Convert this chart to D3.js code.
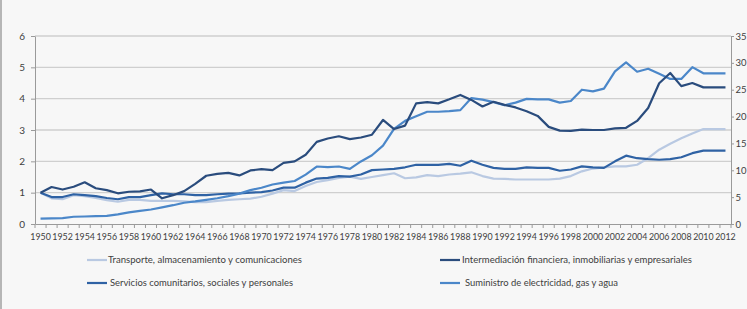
<!DOCTYPE html>
<html>
<head>
<meta charset="utf-8">
<script src="https://cdn.jsdelivr.net/npm/d3@7"></script>
<style>
  html, body { margin: 0; padding: 0; background: #f7f7f7; }
  svg { display: block; font-family: Lato, "Open Sans", sans-serif; }
</style>
</head>
<body>
<svg id="chart" width="747" height="309"></svg>
<script>
// ---- Data ----
const years = d3.range(1950, 2013);

const leftTicks = [0, 1, 2, 3, 4, 5, 6];
const rightTicks = [0, 5, 10, 15, 20, 25, 30, 35];

// Left axis series (index, 1950 = 1)
const transporte = [
  1.00, 0.82, 0.79, 0.92, 0.89, 0.83, 0.76, 0.71, 0.77, 0.77,
  0.74, 0.74, 0.74, 0.72, 0.70, 0.70, 0.74, 0.77, 0.79, 0.81,
  0.87, 0.97, 1.08, 1.05, 1.21, 1.34, 1.40, 1.47, 1.51, 1.44,
  1.50, 1.56, 1.62, 1.46, 1.49, 1.56, 1.53, 1.58, 1.61, 1.65,
  1.53, 1.45, 1.44, 1.42, 1.42, 1.42, 1.42, 1.45, 1.53, 1.68,
  1.77, 1.81, 1.84, 1.84, 1.89, 2.10, 2.37, 2.56, 2.74, 2.89,
  3.03, 3.03, 3.03
];
const intermediacion = [
  1.00, 1.18, 1.10, 1.19, 1.33, 1.14, 1.08, 0.98, 1.03, 1.04,
  1.10, 0.82, 0.92, 1.05, 1.28, 1.54, 1.60, 1.63, 1.55, 1.71,
  1.75, 1.72, 1.95, 2.00, 2.21, 2.62, 2.73, 2.80, 2.71, 2.76,
  2.85, 3.32, 3.03, 3.14, 3.85, 3.89, 3.85, 3.98, 4.12, 3.96,
  3.75, 3.90, 3.80, 3.72, 3.60, 3.45, 3.10, 2.98, 2.97, 3.01,
  3.00, 3.00, 3.05, 3.07, 3.29, 3.70, 4.49, 4.82, 4.40, 4.50,
  4.36, 4.36, 4.36
];
const servicios = [
  1.00, 0.86, 0.86, 0.95, 0.92, 0.89, 0.83, 0.79, 0.86, 0.86,
  0.92, 0.98, 0.95, 0.95, 0.92, 0.92, 0.95, 0.97, 0.98, 1.00,
  1.02, 1.07, 1.16, 1.16, 1.32, 1.45, 1.47, 1.53, 1.51, 1.58,
  1.72, 1.74, 1.76, 1.81, 1.89, 1.89, 1.89, 1.92, 1.86, 2.02,
  1.89, 1.79, 1.76, 1.76, 1.81, 1.79, 1.79, 1.70, 1.74, 1.84,
  1.81, 1.79, 2.00, 2.18, 2.10, 2.07, 2.05, 2.07, 2.13, 2.26,
  2.34, 2.34, 2.34
];
// Right axis series
const suministro = [
  1.00, 1.05, 1.10, 1.35, 1.40, 1.45, 1.50, 1.80, 2.15, 2.45,
  2.70, 3.10, 3.50, 3.95, 4.20, 4.50, 4.80, 5.20, 5.65, 6.30,
  6.75, 7.35, 7.70, 8.00, 9.20, 10.7, 10.6, 10.7, 10.25, 11.65,
  12.8, 14.6, 17.7, 19.2, 20.05, 20.9, 20.9, 21.0, 21.2, 23.45,
  23.15, 22.7, 22.1, 22.6, 23.3, 23.2, 23.2, 22.6, 22.9, 25.0,
  24.7, 25.2, 28.4, 30.1, 28.35, 28.9, 27.95, 27.0, 27.0, 29.2,
  28.05, 28.05, 28.05
];

const seriesNames = [
  "Transporte, almacenamiento y comunicaciones",
  "Intermediación financiera, inmobiliarias y empresariales",
  "Servicios comunitarios, sociales y personales",
  "Suministro de electricidad, gas y agua"
];
const seriesColors = ["#b9c9e2", "#2a4c7d", "#2f62a4", "#4b87c9"];
const seriesValues = [transporte, intermediacion, servicios, suministro];
const seriesAxis = ["left", "left", "left", "right"];

// ---- Layout ----
const svg = d3.select("#chart");
const plot = { left: 35, right: 731, top: 36, bottom: 224 };

svg.append("rect").attr("width", 747).attr("height", 309).attr("fill", "#f7f7f7");
svg.append("line").attr("x1", 1).attr("x2", 1).attr("y1", 0).attr("y2", 309)
  .attr("stroke", "#8a8a8a").attr("stroke-width", 1.2);

const x = d3.scaleBand().domain(years).range([plot.left, plot.right]).padding(0);
const xc = y => x(y) + x.bandwidth() / 2;
const yL = d3.scaleLinear().domain([0, 6]).range([plot.bottom, plot.top]);
const yR = d3.scaleLinear().domain([0, 35]).range([plot.bottom, plot.top]);

// Gridlines (left axis)
svg.append("g").selectAll("line").data(leftTicks.filter(d => d > 0)).join("line")
  .attr("x1", plot.left).attr("x2", plot.right)
  .attr("y1", d => yL(d)).attr("y2", d => yL(d))
  .attr("stroke", "#cfcfcf").attr("stroke-width", 1.3);

// Left axis
const gL = svg.append("g").attr("transform", `translate(${plot.left},0)`)
  .call(d3.axisLeft(yL).tickValues(leftTicks).tickFormat(d3.format("d")).tickSize(4).tickPadding(6).tickSizeOuter(0));
gL.select(".domain").attr("stroke", "#9a9a9a");
gL.selectAll(".tick line").attr("stroke", "#9a9a9a");
gL.selectAll(".tick text").attr("fill", "#404040").style("font-size", "10px").style("font-family", "Lato, sans-serif");

// Right axis
const gR = svg.append("g").attr("transform", `translate(${plot.right},0)`)
  .call(d3.axisRight(yR).tickValues(rightTicks).tickFormat(d3.format("d")).tickSize(3).tickPadding(1.5).tickSizeOuter(0));
gR.select(".domain").attr("stroke", "#9a9a9a");
gR.selectAll(".tick line").attr("stroke", "#9a9a9a");
gR.selectAll(".tick text").attr("fill", "#404040").style("font-size", "9.5px").style("font-family", "Lato, sans-serif");

// X axis
const gX = svg.append("g").attr("transform", `translate(0,${plot.bottom})`)
  .call(d3.axisBottom(x).tickValues(years.filter(d => d % 2 === 0)).tickSize(0).tickPadding(9).tickSizeOuter(0));
gX.select(".domain").attr("stroke", "#9a9a9a");
gX.selectAll(".tick text").attr("fill", "#404040").style("font-size", "9.2px").style("font-family", "Lato, sans-serif")
  .attr("textLength", 20.5).attr("lengthAdjust", "spacingAndGlyphs");
// tick marks between categories
svg.append("g").selectAll("line").data(years.concat([2013])).join("line")
  .attr("x1", d => d === 2013 ? plot.right : x(d))
  .attr("x2", d => d === 2013 ? plot.right : x(d))
  .attr("y1", plot.bottom).attr("y2", plot.bottom + 4)
  .attr("stroke", "#9a9a9a");

// Lines
const order = [0, 2, 3, 1];
order.forEach(i => {
  const ys = seriesAxis[i] === "left" ? yL : yR;
  const line = d3.line().x((d, j) => xc(years[j])).y(d => ys(d));
  svg.append("path").datum(seriesValues[i])
    .attr("d", line).attr("fill", "none")
    .attr("stroke", seriesColors[i]).attr("stroke-width", 2.2)
    .attr("stroke-linejoin", "round");
});

// Legend
const legendPos = [
  { lx: 87, tx: 108, y: 260, w: 194 },
  { lx: 440, tx: 462, y: 260, w: 230 },
  { lx: 87, tx: 110, y: 283, w: 183 },
  { lx: 440, tx: 465, y: 283, w: 153 }
];
const lg = svg.append("g");
seriesNames.forEach((name, i) => {
  const p = legendPos[i];
  lg.append("line").attr("x1", p.lx).attr("x2", p.lx + 20).attr("y1", p.y).attr("y2", p.y)
    .attr("stroke", seriesColors[i]).attr("stroke-width", 2.2);
  lg.append("text").attr("x", p.tx).attr("y", p.y).attr("dy", "0.35em")
    .attr("fill", "#404040").style("font-size", "9.8px").style("font-family", "Lato, sans-serif")
    .attr("textLength", p.w).attr("lengthAdjust", "spacingAndGlyphs")
    .text(name);
});
</script>
</body>
</html>
